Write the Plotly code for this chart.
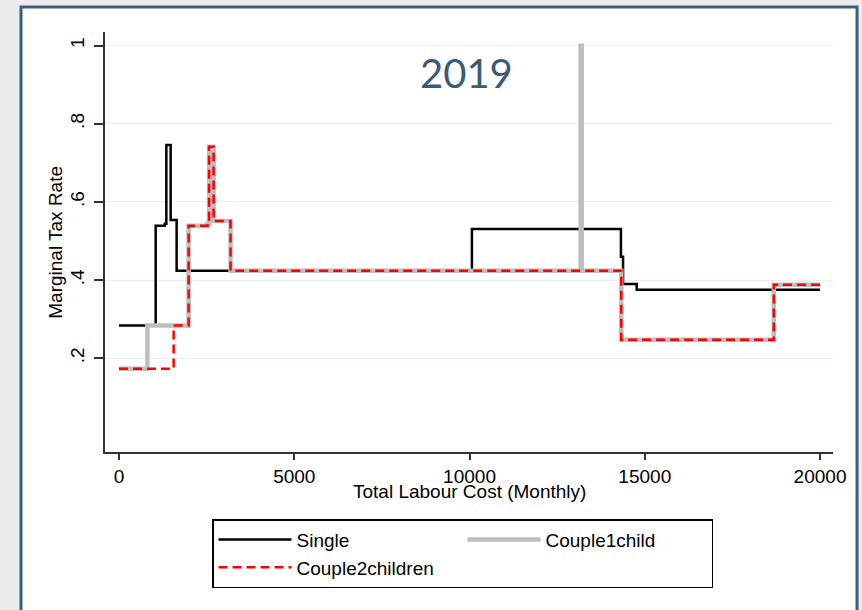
import plotly.graph_objects as go

# step points (x where the rate changes, rate from there on)
single_x = [0, 1046, 1305, 1350, 1473, 1644, 10068, 14320, 14380, 14770, 20000]
single_y = [0.284, 0.539, 0.544, 0.746, 0.554, 0.424, 0.531, 0.460, 0.390, 0.375, 0.375]

c1_x = [0, 809, 1986, 2527, 2570, 2698, 3182, 13170, 13200, 14330, 18681, 20000]
c1_y = [0.173, 0.284, 0.539, 0.545, 0.741, 0.551, 0.424, 1.0, 0.424, 0.247, 0.388, 0.388]

c2_x = [0, 1558, 1986, 2527, 2570, 2698, 3182, 14330, 18681, 20000]
c2_y = [0.173, 0.284, 0.539, 0.545, 0.741, 0.551, 0.424, 0.247, 0.388, 0.388]

x_ticks = [0, 5000, 10000, 15000, 20000]
x_labels = ['0', '5000', '10000', '15000', '20000']
y_ticks = [0.2, 0.4, 0.6, 0.8, 1.0]
y_labels = ['.2', '.4', '.6', '.8', '1']

font = 'Liberation Sans, Arial, sans-serif'

fig = go.Figure()
fig.add_trace(go.Scatter(x=single_x, y=single_y, mode='lines', line_shape='hv',
                         line=dict(color='black', width=2.5), name='Single'))
fig.add_trace(go.Scatter(x=c1_x, y=c1_y, mode='lines', line_shape='hv',
                         line=dict(color='#bebebe', width=4.5), name='Couple1child'))
fig.add_trace(go.Scatter(x=c2_x, y=c2_y, mode='lines', line_shape='hv',
                         line=dict(color='red', width=2.5, dash='9px,5px'), name='Couple2children'))

# outer slide frame
fig.add_shape(type='rect', xref='paper', yref='paper', x0=-0.1154, x1=1.033, y0=-0.6, y1=1.0595,
              fillcolor='white', line=dict(color='#3d5e7f', width=3), layer='below')

fig.add_annotation(text='2019', xref='paper', yref='paper', x=0.497, y=0.902, showarrow=False,
                   xanchor='center', yanchor='middle',
                   font=dict(family='Lato, sans-serif', size=40, color='#3a5a7c'))
fig.add_annotation(text='Total Labour Cost (Monthly)', xref='paper', yref='paper', x=0.5, y=-0.093,
                   showarrow=False, xanchor='center', yanchor='middle',
                   font=dict(family=font, size=19, color='black'))
fig.add_annotation(text='Marginal Tax Rate', xref='paper', yref='paper', x=-0.069, y=0.5, textangle=-90,
                   showarrow=False, xanchor='center', yanchor='middle',
                   font=dict(family=font, size=19, color='black'))

fig.update_layout(
    width=862, height=610,
    margin=dict(l=105, r=29, t=32, b=158),
    paper_bgcolor='#ececec', plot_bgcolor='white',
    font=dict(family=font, size=19, color='black'),
    showlegend=True,
    legend=dict(orientation='h', x=0.147, y=-0.16, xanchor='left', yanchor='top',
                itemwidth=73, entrywidth=161, bordercolor='black', borderwidth=1.5, bgcolor='white',
                font=dict(size=19)),
)
fig.update_xaxes(range=[-400, 20370], tickvals=x_ticks, ticktext=x_labels, ticks='outside', ticklen=6,
                 tickwidth=1.5, tickcolor='#333', showline=True, linecolor='#333', linewidth=1.5,
                 showgrid=False, zeroline=False, tickfont=dict(size=19))
fig.update_yaxes(range=[-0.04, 1.035], tickvals=y_ticks, ticktext=y_labels, tickangle=-90,
                 ticks='outside', ticklen=9, tickwidth=1.5, tickcolor='#333',
                 showline=True, linecolor='#333', linewidth=1.5, ticklabelstandoff=3,
                 showgrid=True, gridcolor='#e8f0f3', gridwidth=1, zeroline=False,
                 tickfont=dict(size=19))

fig.write_html("out.html", config={'displayModeBar': False},
               post_script="document.body.style.margin='0';")
